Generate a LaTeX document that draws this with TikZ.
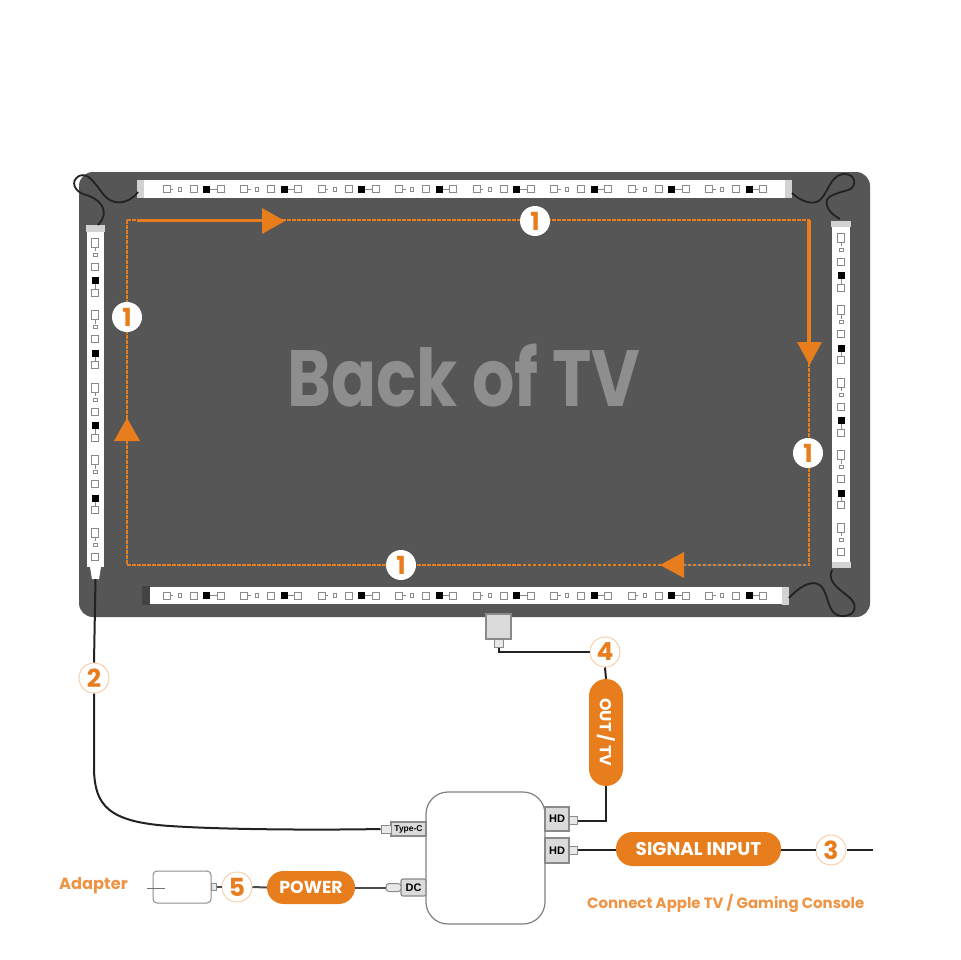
\documentclass[tikz,border=0pt]{standalone}
\usepackage{fontspec}
\setmainfont{Poppins}
\newfontfamily\labelfont{Liberation Sans}
\definecolor{orng}{HTML}{E87D1E}
\definecolor{lorng}{HTML}{EE9445}
\definecolor{tvgray}{HTML}{565656}
\definecolor{tvtext}{HTML}{8E8E8E}
\definecolor{capgray}{HTML}{D2D2D2}
\definecolor{pathblue}{HTML}{2F6FA8}
\definecolor{wire}{HTML}{222222}
\definecolor{icon}{HTML}{8A8A8A}
\tikzset{
  ledsq/.style={draw=icon,line width=.8bp,fill=white},
  ledblk/.style={draw=none,fill=black},
  ledtick/.style={draw=icon,line width=.8bp},
  pics/hgroup/.style={code={
    \draw[ledsq] (0,-3.5) rectangle (7,3.5);
    \draw[ledtick] (7,0) -- (10,0);
    \draw[ledsq] (15,-2) rectangle (18,2);
    \draw[ledsq] (27,-3.5) rectangle (34,3.5);
    \fill[ledblk] (40,-3.5) rectangle (47,3.5);
    \draw[ledtick] (47,0) -- (54,0);
    \draw[ledsq] (54,-3.5) rectangle (61,3.5);
  }},
  pics/vgroupshort/.style={code={
    \draw[ledsq] (-3.5,0) rectangle (3.5,9);
    \draw[ledtick] (0,9) -- (0,13);
    \draw[ledsq] (-2,15) rectangle (2,18);
    \draw[ledsq] (-3.5,25) rectangle (3.5,32);
  }},
  pics/vgroup/.style={code={
    \pic {vgroupshort};
    \fill[ledblk] (-3.5,39) rectangle (3.5,46);
    \draw[ledtick] (0,46) -- (0,51);
    \draw[ledsq] (-3.5,51) rectangle (3.5,58);
  }},
  badge/.style={circle,fill=white,text=orng,minimum size=30bp,inner sep=0pt,
    font=\fontsize{25}{25}\selectfont\bfseries},
  outbadge/.style={badge,draw=lorng!45,line width=1bp},
  pill/.style={fill=orng,text=white,rounded corners=16.5bp,inner sep=0pt},
  cable/.style={draw=wire,line width=2bp},
  jumper/.style={draw=wire,line width=1.8bp},
  port/.style={draw=icon,line width=1.2bp,fill=capgray!80,inner sep=0pt,text=black},
  plug/.style={draw=icon,line width=1bp,fill=capgray!50,inner sep=0pt},
  flowdash/.style={draw=orng,line width=1.6bp,dash pattern=on 3.5bp off 1.5bp},
  bluedash/.style={draw=pathblue,line width=1.6bp},
  flowarrow/.style={draw=orng,line width=3.4bp},
  arrowhead/.style={fill=orng,draw=none},
  stripbody/.style={fill=white,draw=none},
  stripcap/.style={fill=capgray,draw=none},
  orangetext/.style={text=lorng,inner sep=0pt},
}
\begin{document}
\begin{tikzpicture}[x=1bp,y=-1bp]
\useasboundingbox (0,0) rectangle (960,960);
\fill[white] (0,0) rectangle (960,960);
% TV
\fill[tvgray,rounded corners=14bp] (79,172) rectangle (870,617);
\node[text=tvtext,inner sep=0pt,xscale=.835,font=\fontsize{80}{80}\selectfont\bfseries] (title) at (464,376) {Back of TV};
% Top strip
\fill[stripbody] (143,180) rectangle (786,198);
\fill[stripcap] (137,180) rectangle (144,198);
\fill[stripcap] (785,180) rectangle (792,198);
\foreach \i in {0,...,7} \pic at ({163+77.5*\i},189) {hgroup};
% Bottom strip
\fill[stripbody] (150,587) rectangle (783,604);
\fill[black!22!tvgray] (142,586) rectangle (150,605);
\fill[stripcap] (782,587) rectangle (789,605);
\foreach \i in {0,...,7} \pic at ({163+77.5*\i},595.5) {hgroup};
% Left strip
\fill[stripbody] (87,232) rectangle (104,567);
\fill[stripcap] (86,225) rectangle (105,232);
\fill[stripbody] (90,567) -- (101,567) -- (99,579) -- (92,579) -- cycle;
\foreach \i in {0,...,3} \pic at (95,{238+72.5*\i}) {vgroup};
\pic at (95,528) {vgroupshort};
% Right strip
\fill[stripbody] (832,227) rectangle (850,562);
\fill[stripcap] (831,221) rectangle (851,227);
\fill[stripcap] (832,562) rectangle (851,568);
\foreach \i in {0,...,3} \pic at (841,{233+72.5*\i}) {vgroup};
\pic at (841,523) {vgroupshort};
% Corner jumpers
\coordinate (tlA) at (138,192); \coordinate (tlB) at (98,225);
\draw[jumper] (tlA) .. controls (128,205) and (112,206) .. (103,194)
  .. controls (94,182) and (88,172) .. (79,176)
  .. controls (70,181) and (74,192) .. (86,195)
  .. controls (98,198) and (112,210) .. (tlB);
\coordinate (trA) at (792,193); \coordinate (trB) at (840,219);
\draw[jumper] (trA) .. controls (800,201) and (813,206) .. (820,200)
  .. controls (828,193) and (830,176) .. (843,174)
  .. controls (856,173) and (858,187) .. (848,190)
  .. controls (835,194) and (824,196) .. (827,205)
  .. controls (829,213) and (835,216) .. (trB);
\coordinate (brA) at (789,598); \coordinate (brB) at (832,570);
\draw[jumper] (brA) .. controls (798,588) and (812,578) .. (821,586)
  .. controls (829,594) and (827,615) .. (841,616)
  .. controls (856,617) and (858,605) .. (850,598)
  .. controls (841,590) and (826,582) .. (brB);
% Flow path
\coordinate (pTL) at (127,220); \coordinate (pTR) at (809,220);
\coordinate (pBR) at (809,565); \coordinate (pBL) at (127,565);
\draw[bluedash] (684,565) -- (pBR);
\draw[bluedash] (127,530) -- (127,565);
\draw[flowdash] (pTL) -- (pTR) -- (pBR) -- (pBL) -- cycle;
\draw[flowarrow] (137,220.5) -- (265,220.5);
\fill[arrowhead] (262,208) -- (285,221) -- (262,234) -- cycle;
\draw[flowarrow] (809,220) -- (809,344);
\fill[arrowhead] (797,342) -- (822,342) -- (809.5,365) -- cycle;
\fill[arrowhead] (127,418) -- (140,441) -- (114,441) -- cycle;
\fill[arrowhead] (660,565) -- (684,552) -- (684,578) -- cycle;
% Badges on path
\node[badge] (n1a) at (535,221) {1};
\node[badge] (n1b) at (127,317) {1};
\node[badge] (n1c) at (808,453) {1};
\node[badge] (n1d) at (401,565) {1};
% Hub
\node[draw=black!50,line width=1.2bp,fill=white,rounded corners=22bp,minimum width=119bp,minimum height=132bp,inner sep=0pt] (hub) at (485.5,858) {};
% Ports
\node[port,minimum width=35bp,minimum height=14bp,font=\labelfont\bfseries\fontsize{8.5}{9}\selectfont] (tc) at (408.5,829) {Type-C};
\node[plug,minimum width=10bp,minimum height=8bp] (tcp) at (386,829) {};
\node[port,minimum width=25bp,minimum height=17bp,rounded corners=2bp,font=\labelfont\bfseries\fontsize{11}{12}\selectfont] (dc) at (413.5,887.5) {DC};
\node[plug,minimum width=15bp,minimum height=8bp,rounded corners=3bp] (dcp) at (393.5,887.5) {};
\node[port,minimum width=24bp,minimum height=24bp,font=\labelfont\bfseries\fontsize{11}{12}\selectfont] (hd1) at (557,819) {HD};
\node[plug,minimum width=8bp,minimum height=8bp] (hd1p) at (573,820.5) {};
\node[port,minimum width=24bp,minimum height=25bp,font=\labelfont\bfseries\fontsize{11}{12}\selectfont] (hd2) at (557,850.5) {HD};
\node[plug,minimum width=8bp,minimum height=8bp] (hd2p) at (573,850) {};
% TV output connector
\node[port,minimum width=25bp,minimum height=25bp] (tvport) at (498.5,626.5) {};
\node[plug,minimum width=9bp,minimum height=8bp] (tvplug) at (498.5,643) {};
% Outer badges
\node[outbadge] (n2) at (94,678) {2};
\node[outbadge] (n3) at (831,850) {3};
\node[outbadge] (n4) at (605,652) {4};
\node[outbadge] (n5) at (237,887) {5};
% Pills
\node[pill,minimum width=107bp,minimum height=34bp,rounded corners=17bp,rotate=-90,font=\fontsize{16}{16}\selectfont\bfseries] (outtv) at (606,732.5) {OUT / TV};
\node[pill,minimum width=165bp,minimum height=34bp,font=\fontsize{18.5}{19}\selectfont\bfseries] (sig) at (698.5,849) {SIGNAL INPUT};
\node[pill,minimum width=88bp,minimum height=33bp,font=\fontsize{17.4}{18}\selectfont\bfseries] (pow) at (311,887.5) {POWER};
% Adapter
\node[draw=black!45,line width=1bp,fill=white,rounded corners=4bp,minimum width=58bp,minimum height=32bp,inner sep=0pt] (adp) at (182,887) {};
\node[plug,minimum width=5bp,minimum height=7bp] (adpp) at (213.5,887) {};
\coordinate (adpL) at (147,888); \coordinate (adpR) at (165,888);
\draw[draw=black!55,line width=.7bp] (adpL) -- (adpR);
% Cables
\coordinate (ledEnd) at (95.5,579);
\draw[cable] (ledEnd) -- (n2.north);
\draw[cable] (n2.south) -- (94,770) .. controls (95,805) and (108,822) .. (170,826)
  .. controls (230,830) and (330,830) .. (tcp.west);
\draw[cable] (tvplug.south) -- ++(0,3) |- (n4.west);
\draw[cable] (n4.south) -- (outtv.west);
\draw[cable] (outtv.east) |- (hd1p.east);
\draw[cable] (hd2p.east) -- (sig.west |- hd2p.east);
\draw[cable] (sig.east |- n3.west) -- (n3.west);
\coordinate (sigEnd) at (873,850);
\draw[cable] (n3.east) -- (sigEnd);
\draw[cable,draw=black!70] (pow.east) -- (dcp.west);
\draw[cable,draw=black!70] (n5.east) -- (pow.west);
\draw[cable,draw=black!70] (adpp.east) -- (n5.west);
% Captions
\node[orangetext,anchor=west,font=\fontsize{16.3}{17}\selectfont\bfseries] (cap1) at (59,886) {Adapter};
\node[orangetext,anchor=west,font=\fontsize{15}{16}\selectfont\bfseries] (cap2) at (587,903) {Connect Apple TV / Gaming Console};
\end{tikzpicture}
\end{document}
